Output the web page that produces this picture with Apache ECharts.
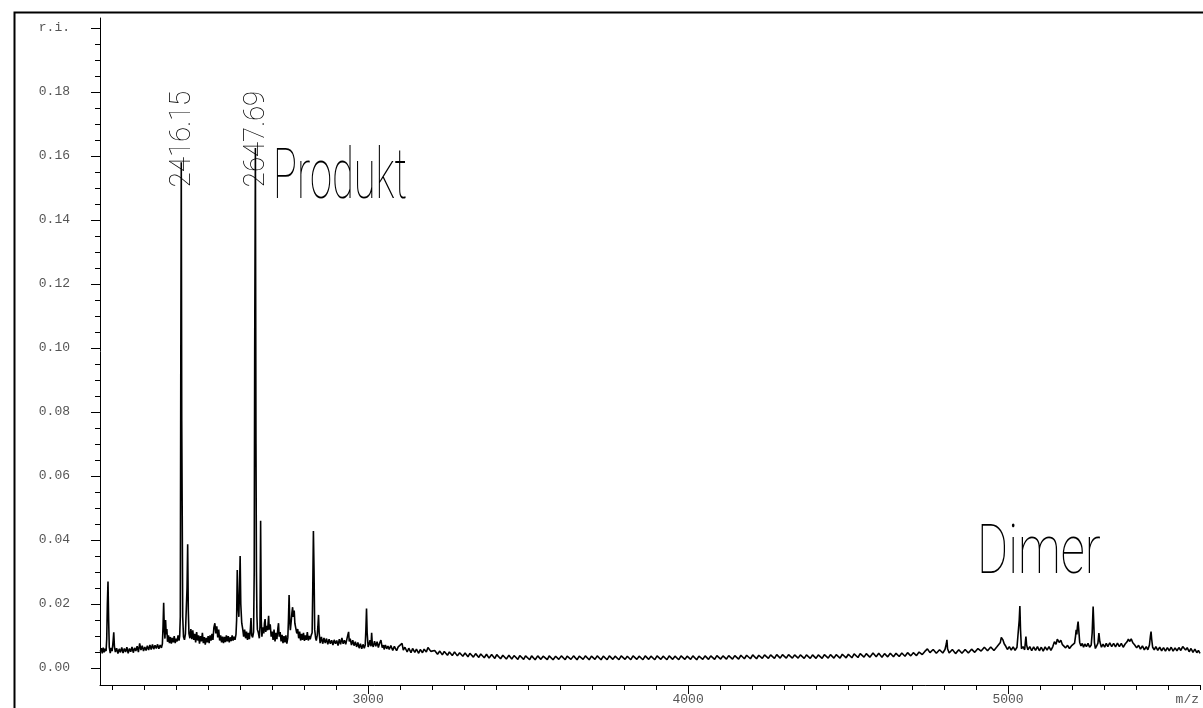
<!DOCTYPE html>
<html>
<head>
<meta charset="utf-8">
<script src="https://cdn.jsdelivr.net/npm/echarts@6/dist/echarts.min.js"></script>
<style>
  html, body { margin: 0; padding: 0; background: #fff; }
  #chart { width: 1203px; height: 708px; }
</style>
</head>
<body>
<div id="chart"></div>
<script>
// spectrum pieces, [m/z, r.i.]
const lowMass = [
  [2163,0.0052],[2166,0.0062],[2169,0.0046],[2172,0.0064],[2175,0.0049],[2178,0.0060],[2181,0.0053],[2183,0.0090],[2185,0.0200],[2187,0.0270],
  [2189,0.0150],[2191,0.0065],[2194,0.0047],[2197,0.0063],[2200,0.0053],[2203,0.0085],[2205,0.0112],[2207,0.0068],[2210,0.0050],[2214,0.0062],
  [2218,0.0045],[2222,0.0060],[2226,0.0049],[2230,0.0064],[2234,0.0047],[2238,0.0061],[2242,0.0050],[2246,0.0065],[2250,0.0046],[2254,0.0061],
  [2258,0.0051],[2262,0.0066],[2266,0.0048],[2270,0.0063],[2274,0.0053],[2278,0.0068],[2282,0.0050],[2286,0.0077],[2290,0.0056],[2294,0.0070],
  [2298,0.0053],[2302,0.0066],[2306,0.0055],[2310,0.0070],[2314,0.0056],[2318,0.0072],[2322,0.0058],[2326,0.0074],[2330,0.0059],[2334,0.0071],
  [2338,0.0061],[2342,0.0074],[2346,0.0060],[2350,0.0072],[2354,0.0063],[2357,0.0076],[2359,0.0130],[2361,0.0204],[2363,0.0120],[2365,0.0092],
  [2367,0.0150],[2369,0.0105],[2371,0.0122],[2373,0.0082],[2376,0.0102],[2379,0.0078],[2382,0.0097],[2385,0.0076],[2388,0.0094],[2391,0.0080],
  [2394,0.0100],[2397,0.0078],[2400,0.0092],[2403,0.0083],[2406,0.0102],[2409,0.0086],[2411,0.0100],[2413,0.0160],[2414.5,0.0950],[2416,0.1580],
  [2417.5,0.0770],[2419,0.0480],[2420.5,0.0160],[2423,0.0098],[2426,0.0088],[2429,0.0107],[2432,0.0112],[2434,0.0250],[2436,0.0387],[2438,0.0180],
  [2440,0.0108],[2443,0.0093],[2446,0.0122],[2449,0.0090]
];

const productRegion = [
  [2452,0.0118],[2455,0.0088],[2458,0.0107],[2461,0.0080],[2464,0.0112],[2467,0.0086],[2470,0.0102],[2473,0.0076],[2476,0.0100],[2479,0.0083],
  [2482,0.0110],[2485,0.0078],[2488,0.0097],[2491,0.0073],[2494,0.0094],[2497,0.0080],[2500,0.0100],[2503,0.0078],[2506,0.0102],[2509,0.0086],
  [2512,0.0107],[2515,0.0088],[2518,0.0127],[2521,0.0140],[2524,0.0108],[2527,0.0130],[2530,0.0096],[2533,0.0120],[2536,0.0086],[2539,0.0102],
  [2542,0.0080],[2545,0.0098],[2548,0.0078],[2551,0.0097],[2554,0.0081],[2557,0.0102],[2560,0.0083],[2563,0.0100],[2566,0.0080],[2569,0.0096],
  [2572,0.0084],[2575,0.0102],[2578,0.0086],[2581,0.0098],[2584,0.0088],[2587,0.0105],[2589,0.0150],[2591,0.0306],[2593,0.0200],[2596,0.0160],
  [2598,0.0250],[2600,0.0350],[2602,0.0200],[2605,0.0140],[2608,0.0122],[2611,0.0098],[2614,0.0120],[2617,0.0093],[2620,0.0114],[2623,0.0088],
  [2626,0.0110],[2629,0.0090],[2632,0.0122],[2634,0.0156],[2636,0.0103],[2639,0.0096],[2642,0.0112],[2644,0.0300],[2645.5,0.1000],[2647.7,0.1625],
  [2649.5,0.0700],[2651,0.0300],[2652.5,0.0160],[2654,0.0120],[2657,0.0110],[2660,0.0093],[2662,0.0130],[2664,0.0460],[2666,0.0150],[2668,0.0098],
  [2671,0.0127],[2674,0.0108],[2676,0.0140],[2678,0.0153],[2680,0.0113],[2683,0.0132],[2686,0.0118],[2689,0.0163],[2691,0.0120],[2694,0.0137],
  [2697,0.0098]
];

const fragmentTail = [
  [2700,0.0114],[2703,0.0088],[2706,0.0120],[2709,0.0083],[2712,0.0110],[2715,0.0090],[2718,0.0125],[2720,0.0140],[2722,0.0098],[2725,0.0112],
  [2728,0.0083],[2731,0.0104],[2734,0.0078],[2737,0.0100],[2740,0.0080],[2743,0.0102],[2746,0.0076],[2749,0.0095],[2751,0.0150],[2753,0.0228],
  [2755,0.0150],[2757,0.0118],[2760,0.0150],[2762,0.0175],[2764,0.0190],[2766,0.0160],[2769,0.0180],[2771,0.0140],[2774,0.0145],[2777,0.0108],
  [2780,0.0122],[2783,0.0093],[2786,0.0114],[2789,0.0086],[2792,0.0107],[2795,0.0088],[2798,0.0110],[2801,0.0085],[2804,0.0102],[2807,0.0088],
  [2810,0.0112],[2813,0.0086],[2816,0.0100],[2819,0.0090],[2822,0.0102],[2825,0.0110],[2827,0.0250],[2829,0.0428],[2831,0.0300],[2833,0.0120],
  [2836,0.0093],[2838,0.0086],[2841,0.0102],[2843,0.0130],[2845,0.0166],[2847,0.0110],[2850,0.0078],[2854,0.0097],[2858,0.0076],[2862,0.0094],
  [2866,0.0078],[2870,0.0092],[2874,0.0074],[2878,0.0090],[2882,0.0076],[2886,0.0087],[2890,0.0072],[2894,0.0088],[2898,0.0076],[2902,0.0086],
  [2906,0.0070],[2910,0.0090],[2914,0.0074],[2918,0.0094],[2922,0.0076],[2926,0.0087],[2930,0.0074],[2934,0.0092],[2937,0.0105],[2939,0.0113],
  [2941,0.0083],[2944,0.0092],[2948,0.0072],[2952,0.0087],[2956,0.0070],[2960,0.0082],[2964,0.0066],[2968,0.0080],[2972,0.0062],[2976,0.0076],
  [2980,0.0060],[2984,0.0074],[2988,0.0062],[2991,0.0072],[2993,0.0120],[2995,0.0186],[2997,0.0110],[3000,0.0066],[3003,0.0074],[3006,0.0087],
  [3009,0.0068],[3011,0.0110],[3013,0.0076],[3016,0.0066],[3020,0.0084],[3024,0.0068],[3028,0.0082],[3032,0.0064],[3036,0.0078],[3040,0.0087],
  [3044,0.0064],[3048,0.0072],[3050,0.0058],[3054,0.0072],[3058,0.0060],[3062,0.0069]
];

const baselineMid = [
  [3066,0.0058],[3071,0.0070],[3077,0.0055],[3082,0.0068],[3089,0.0054],[3094,0.0066],[3100,0.0071],[3106,0.0077],[3110,0.0056],[3115,0.0065],
  [3122,0.0050],[3127,0.0062],[3134,0.0048],[3139,0.0061],[3146,0.0049],[3151,0.0059],[3158,0.0046],[3163,0.0058],[3170,0.0048],[3175,0.0059],
  [3182,0.0050],[3187,0.0064],[3192,0.0069],[3196,0.0052],[3202,0.0047],[3208,0.0055],[3217,0.0043],[3224,0.0053],[3232,0.0041],[3238,0.0052],
  [3248,0.0040],[3254,0.0050],[3263,0.0039],[3270,0.0050],[3279,0.0038],[3286,0.0048],[3296,0.0037],[3303,0.0047],[3312,0.0035],[3318,0.0046],
  [3329,0.0034],[3336,0.0045],[3346,0.0033],[3352,0.0044],[3363,0.0032],[3370,0.0043],[3378,0.0031],[3386,0.0042],[3396,0.0030],[3402,0.0042],
  [3414,0.0029],[3421,0.0040],[3432,0.0028],[3440,0.0040],[3449,0.0028],[3456,0.0039],[3468,0.0027],[3474,0.0039],[3486,0.0027],[3492,0.0038],
  [3505,0.0026],[3511,0.0038],[3522,0.0026],[3530,0.0038],[3540,0.0027],[3547,0.0037],[3560,0.0026],[3566,0.0038],[3578,0.0026],[3586,0.0037],
  [3596,0.0027],[3604,0.0038],[3616,0.0026],[3622,0.0037],[3634,0.0027],[3642,0.0038],[3653,0.0026],[3660,0.0037],[3672,0.0027],[3679,0.0038],
  [3691,0.0026],[3698,0.0037],[3709,0.0027],[3716,0.0038],[3728,0.0026],[3735,0.0037],[3747,0.0026],[3754,0.0038],[3765,0.0027],[3772,0.0037],
  [3784,0.0026],[3791,0.0038],[3803,0.0027],[3810,0.0037],[3821,0.0026],[3828,0.0038],[3840,0.0027],[3847,0.0037],[3859,0.0026],[3866,0.0038],
  [3877,0.0027],[3884,0.0037],[3896,0.0026],[3903,0.0038],[3915,0.0027],[3922,0.0037],[3934,0.0026],[3941,0.0038],[3952,0.0027],[3959,0.0037],
  [3971,0.0026],[3978,0.0038],[3990,0.0027],[3997,0.0037],[4008,0.0027],[4015,0.0038],[4027,0.0026],[4034,0.0037],[4046,0.0027],[4053,0.0038],
  [4064,0.0027],[4071,0.0038],[4083,0.0027],[4090,0.0039],[4102,0.0028],[4109,0.0038],[4120,0.0028],[4127,0.0039],[4139,0.0028],[4146,0.0039],
  [4158,0.0028],[4165,0.0040],[4176,0.0029],[4183,0.0040],[4195,0.0029],[4202,0.0041],[4214,0.0029],[4221,0.0040],[4232,0.0030],[4239,0.0041],
  [4251,0.0030],[4258,0.0041],[4270,0.0030],[4277,0.0042],[4288,0.0031],[4295,0.0042],[4307,0.0031],[4314,0.0042],[4326,0.0031],[4333,0.0041],
  [4344,0.0031]
];

const dimerRegion = [
  [4351,0.0041],[4363,0.0030],[4370,0.0041],[4382,0.0030],[4389,0.0041],[4400,0.0030],[4407,0.0041],[4419,0.0030],[4426,0.0042],[4438,0.0031],
  [4445,0.0042],[4456,0.0031],[4463,0.0042],[4475,0.0031],[4482,0.0043],[4494,0.0032],[4501,0.0043],[4512,0.0032],[4519,0.0044],[4531,0.0033],
  [4538,0.0045],[4550,0.0034],[4557,0.0045],[4568,0.0034],[4578,0.0047],[4588,0.0035],[4596,0.0046],[4606,0.0034],[4614,0.0045],[4624,0.0035],
  [4632,0.0046],[4642,0.0035],[4650,0.0046],[4660,0.0036],[4668,0.0047],[4678,0.0037],[4686,0.0048],[4696,0.0038],[4704,0.0048],[4714,0.0039],
  [4722,0.0050],[4732,0.0042],[4740,0.0052],[4748,0.0060],[4756,0.0048],[4766,0.0058],[4776,0.0046],[4786,0.0057],[4796,0.0047],[4803,0.0058],
  [4807,0.0075],[4809,0.0088],[4811,0.0060],[4816,0.0047],[4826,0.0058],[4836,0.0045],[4846,0.0057],[4856,0.0046],[4866,0.0058],[4876,0.0047],
  [4886,0.0059],[4896,0.0049],[4906,0.0061],[4916,0.0053],[4926,0.0065],[4936,0.0054],[4946,0.0066],[4956,0.0055],[4966,0.0067],[4972,0.0062],
  [4976,0.0080],[4979,0.0096],[4981,0.0100],[4984,0.0088],[4988,0.0076],[4993,0.0068],[4998,0.0058],[5004,0.0067],[5010,0.0056],[5016,0.0066],
  [5022,0.0055],[5028,0.0065],[5033,0.0070],[5035,0.0150],[5037,0.0194],[5039,0.0120],[5042,0.0060],[5047,0.0067],[5052,0.0057],[5055,0.0090],
  [5056,0.0098],[5058,0.0072],[5062,0.0057],[5068,0.0067],[5074,0.0054],[5080,0.0066],[5086,0.0055],[5092,0.0067],[5098,0.0054],[5104,0.0065],
  [5110,0.0053],[5116,0.0066],[5122,0.0056],[5128,0.0067],[5134,0.0055],[5140,0.0067],[5145,0.0082],[5147,0.0088],[5150,0.0074],[5154,0.0090],
  [5156,0.0094],[5160,0.0080],[5165,0.0087],[5170,0.0073],[5175,0.0079],[5180,0.0063],[5186,0.0071],[5192,0.0061],[5198,0.0069],[5204,0.0063],
  [5208,0.0078],[5211,0.0100],[5213,0.0119],[5215,0.0105],[5217,0.0130],[5219,0.0145],[5221,0.0120],[5224,0.0080],[5228,0.0069],[5232,0.0077],
  [5236,0.0065],[5240,0.0075],[5245,0.0067],[5250,0.0077],[5255,0.0065],[5260,0.0072],[5263,0.0110],[5266,0.0192],[5268,0.0140],[5270,0.0080],
  [5273,0.0061],[5277,0.0069],[5281,0.0078],[5284,0.0109],[5287,0.0082],[5292,0.0065],[5297,0.0075],[5302,0.0065],[5307,0.0077],[5312,0.0067],
  [5318,0.0079],[5324,0.0067],[5330,0.0077],[5336,0.0066],[5342,0.0078],[5348,0.0067],[5354,0.0077],[5360,0.0065],[5366,0.0075],[5372,0.0082],
  [5376,0.0090],[5380,0.0083],[5385,0.0091],[5390,0.0079],[5396,0.0072],[5402,0.0063],[5408,0.0071],[5414,0.0059],[5420,0.0069],[5426,0.0057],
  [5432,0.0067],[5437,0.0057],[5442,0.0072],[5445,0.0100],[5447,0.0114],[5449,0.0090],[5452,0.0065],[5457,0.0057],[5462,0.0067],[5468,0.0055],
  [5474,0.0065],[5480,0.0054],[5486,0.0064],[5492,0.0053],[5498,0.0064],[5504,0.0054],[5510,0.0065],[5516,0.0053],[5522,0.0063],[5528,0.0054],
  [5534,0.0064],[5540,0.0055],[5546,0.0067],[5550,0.0069],[5555,0.0056],[5560,0.0064],[5566,0.0051],[5572,0.0061],[5578,0.0049],[5584,0.0059],
  [5590,0.0048],[5595,0.0055],[5600,0.0046]
];

// axis ticks and labels
const mzMajorTicks = [3000, 4000, 5000];
const mzMinorTicks = [2200, 2300, 2400, 2500, 2600, 2700, 2800, 2900, 3000, 3100, 3200, 3300, 3400, 3500, 3600, 3700,
  3800, 3900, 4000, 4100, 4200, 4300, 4400, 4500, 4600, 4700, 4800, 4900, 5000, 5100, 5200, 5300, 5400, 5500, 5600];
const riMajorTicks = [0, 0.02, 0.04, 0.06, 0.08, 0.10, 0.12, 0.14, 0.16, 0.18, 0.20];
const riMinorTicks = [0, 0.005, 0.01, 0.015, 0.02, 0.025, 0.03, 0.035, 0.04, 0.045, 0.05, 0.055, 0.06, 0.065, 0.07,
  0.075, 0.08, 0.085, 0.09, 0.095, 0.10, 0.105, 0.11, 0.115, 0.12, 0.125, 0.13, 0.135, 0.14, 0.145, 0.15, 0.155,
  0.16, 0.165, 0.17, 0.175, 0.18, 0.185, 0.19, 0.195, 0.20];
const peakLabels = [
  { text: "2416.15", x: 183, y: 139 },
  { text: "2647.69", x: 257, y: 139 }
];

const spectrum = lowMass.concat(productRegion, fragmentTail, baselineMid, dimerRegion);

const chart = echarts.init(document.getElementById("chart"));
const labelFont = { fontFamily: "Liberation Mono", fontSize: 13, color: "#555" };
const thinFont = "Roboto";

const option = {
  animation: false,
  backgroundColor: "#fff",
  grid: { left: 100, right: 3, top: 18, bottom: 23 },
  xAxis: [
    {
      type: "value",
      min: 2162,
      max: 5600,
      position: "bottom",
      splitLine: { show: false },
      axisLine: { show: true, onZero: false, lineStyle: { color: "#000", width: 1 } },
      axisTick: { show: true, length: 5, customValues: mzMinorTicks, lineStyle: { color: "#000" } },
      axisLabel: Object.assign({
        customValues: mzMajorTicks,
        margin: 8,
        formatter: function (v) { return String(v); }
      }, labelFont),
      name: "m/z",
      nameLocation: "end",
      nameGap: 0,
      nameTextStyle: Object.assign({ align: "right", verticalAlign: "top", padding: [8, 1, 0, 0] }, labelFont)
    },
    {
      type: "value",
      min: 2162,
      max: 5600,
      position: "bottom",
      splitLine: { show: false },
      axisLine: { show: false, onZero: false },
      axisTick: { show: true, length: 9, customValues: mzMajorTicks, lineStyle: { color: "#000" } },
      axisLabel: { show: false }
    }
  ],
  yAxis: [
    {
      type: "value",
      min: -0.0053,
      max: 0.2031,
      position: "left",
      splitLine: { show: false },
      axisLine: { show: true, onZero: false, lineStyle: { color: "#000", width: 1 } },
      axisTick: { show: true, length: 5, customValues: riMinorTicks, lineStyle: { color: "#000" } },
      axisLabel: Object.assign({
        customValues: riMajorTicks,
        margin: 30,
        formatter: function (v) {
          return Math.abs(v - 0.2) < 1e-9 ? "r.i." : v.toFixed(2);
        }
      }, labelFont)
    },
    {
      type: "value",
      min: -0.0053,
      max: 0.2031,
      position: "left",
      splitLine: { show: false },
      axisLine: { show: false, onZero: false },
      axisTick: { show: true, length: 9, customValues: riMajorTicks, lineStyle: { color: "#000" } },
      axisLabel: { show: false }
    }
  ],
  series: [
    {
      type: "line",
      data: spectrum,
      xAxisIndex: 0,
      yAxisIndex: 0,
      showSymbol: false,
      symbol: "none",
      sampling: "none",
      lineStyle: { color: "#000", width: 1.6 },
      z: 3
    }
  ],
  graphic: [
    {
      type: "rect",
      left: 12,
      top: 10,
      shape: { x: 0, y: 0, width: 1200, height: 720 },
      style: { fill: "none", stroke: "#000", lineWidth: 2 },
      silent: true
    }
  ].concat(peakLabels.map(function (p) {
    return {
      type: "text",
      x: p.x,
      y: p.y,
      rotation: Math.PI / 2,
      scaleX: 0.95,
      style: {
        text: p.text,
        fontFamily: thinFont,
        fontWeight: 100,
        fontSize: 29,
        fill: "#000",
        align: "center",
        verticalAlign: "middle"
      },
      z: 10
    };
  }), [
    {
      type: "text",
      x: 273,
      y: 180,
      scaleX: 0.57,
      style: {
        text: "Produkt",
        fontFamily: thinFont,
        fontWeight: 100,
        fontSize: 70,
        fill: "#000",
        align: "left",
        verticalAlign: "middle"
      },
      z: 10
    },
    {
      type: "text",
      x: 977,
      y: 556,
      scaleX: 0.69,
      style: {
        text: "Dimer",
        fontFamily: thinFont,
        fontWeight: 100,
        fontSize: 69,
        fill: "#000",
        align: "left",
        verticalAlign: "middle"
      },
      z: 10
    }
  ])
};

chart.setOption(option);
window.addEventListener("resize", function () {
  chart.resize();
});
</script>
</body>
</html>
